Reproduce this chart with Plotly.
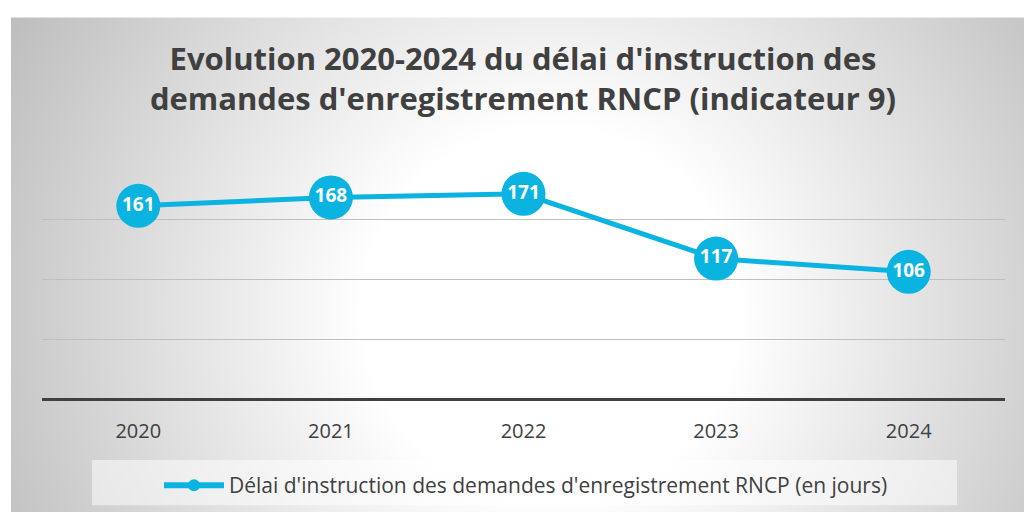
import plotly.graph_objects as go
import urllib.parse

years = ["2020", "2021", "2022", "2023", "2024"]
delais = [161, 168, 171, 117, 106]
series_name = "Délai d'instruction des demandes d'enregistrement RNCP (en jours)"
title_text = "Evolution 2020-2024 du délai d'instruction des<br>demandes d'enregistrement RNCP (indicateur 9)"

W, H = 1024, 518
L, R, T, B = 42, 19, 159, 115
pw, ph = W - L - R, H - T - B

blue = "#0bb4e0"
dark = "#404040"
font = "Open Sans"

svg = (
    '<svg xmlns="http://www.w3.org/2000/svg" width="1013" height="503">'
    '<defs><radialGradient id="g" gradientUnits="userSpaceOnUse" cx="540" cy="300" r="620">'
    '<stop offset="0" stop-color="#ffffff"/><stop offset="0.3" stop-color="#ffffff"/>'
    '<stop offset="1" stop-color="#bdbdbd"/></radialGradient></defs>'
    '<rect width="1013" height="503" fill="url(#g)"/></svg>'
)
src = "data:image/svg+xml;charset=utf-8," + urllib.parse.quote(svg)

def px_x(p):
    return (p - L) / pw

def px_y(p):
    return (H - B - p) / ph

fig = go.Figure()
fig.add_trace(go.Scatter(
    x=years, y=delais, mode="lines+markers+text",
    line=dict(color=blue, width=5),
    marker=dict(size=44, color=blue),
    text=[str(v) for v in delais], textposition="middle center",
    textfont=dict(family=font, size=19, color="white", weight="bold"),
    showlegend=False, cliponaxis=False, hoverinfo="skip",
))
fig.add_trace(go.Scatter(
    x=[None], y=[None], mode="lines+markers", name=series_name,
    line=dict(color=blue, width=6), marker=dict(size=12, color=blue),
))

fig.add_layout_image(dict(
    source=src, xref="paper", yref="paper",
    x=px_x(11), y=px_y(15), sizex=1013 / pw, sizey=503 / ph,
    xanchor="left", yanchor="top", sizing="stretch", layer="below",
))
fig.add_shape(type="rect", xref="paper", yref="paper",
              x0=px_x(92), x1=px_x(957), y0=px_y(511), y1=px_y(465),
              fillcolor="rgba(255,255,255,0.5)", line=dict(width=0), layer="below")

fig.update_layout(
    width=W, height=H,
    margin=dict(l=L, r=R, t=T, b=B),
    paper_bgcolor="white", plot_bgcolor="rgba(0,0,0,0)",
    title=dict(text=title_text, x=px_x(523), xanchor="center", xref="paper",
               y=1 - 70 / H, yanchor="middle",
               font=dict(family=font, size=31, color=dark, weight="bold")),
    xaxis=dict(type="category", range=[-0.5, 4.5], showgrid=False, zeroline=False,
               showline=False, ticks="", tickfont=dict(family=font, size=20, color=dark),
               ticklabelstandoff=18),
    yaxis=dict(range=[0, 200], dtick=50, showticklabels=False, gridcolor="#bfbfbf",
               gridwidth=1, zeroline=True, zerolinecolor=dark, zerolinewidth=3,
               showline=False),
    legend=dict(orientation="h", x=px_x(526), xanchor="center", y=px_y(491),
                yanchor="middle", bgcolor="rgba(0,0,0,0)",
                font=dict(family=font, size=21, color=dark), itemwidth=60),
    showlegend=True,
)

fig.write_html("out.html", post_script="document.body.style.margin='0';",
               config={"displayModeBar": False})
